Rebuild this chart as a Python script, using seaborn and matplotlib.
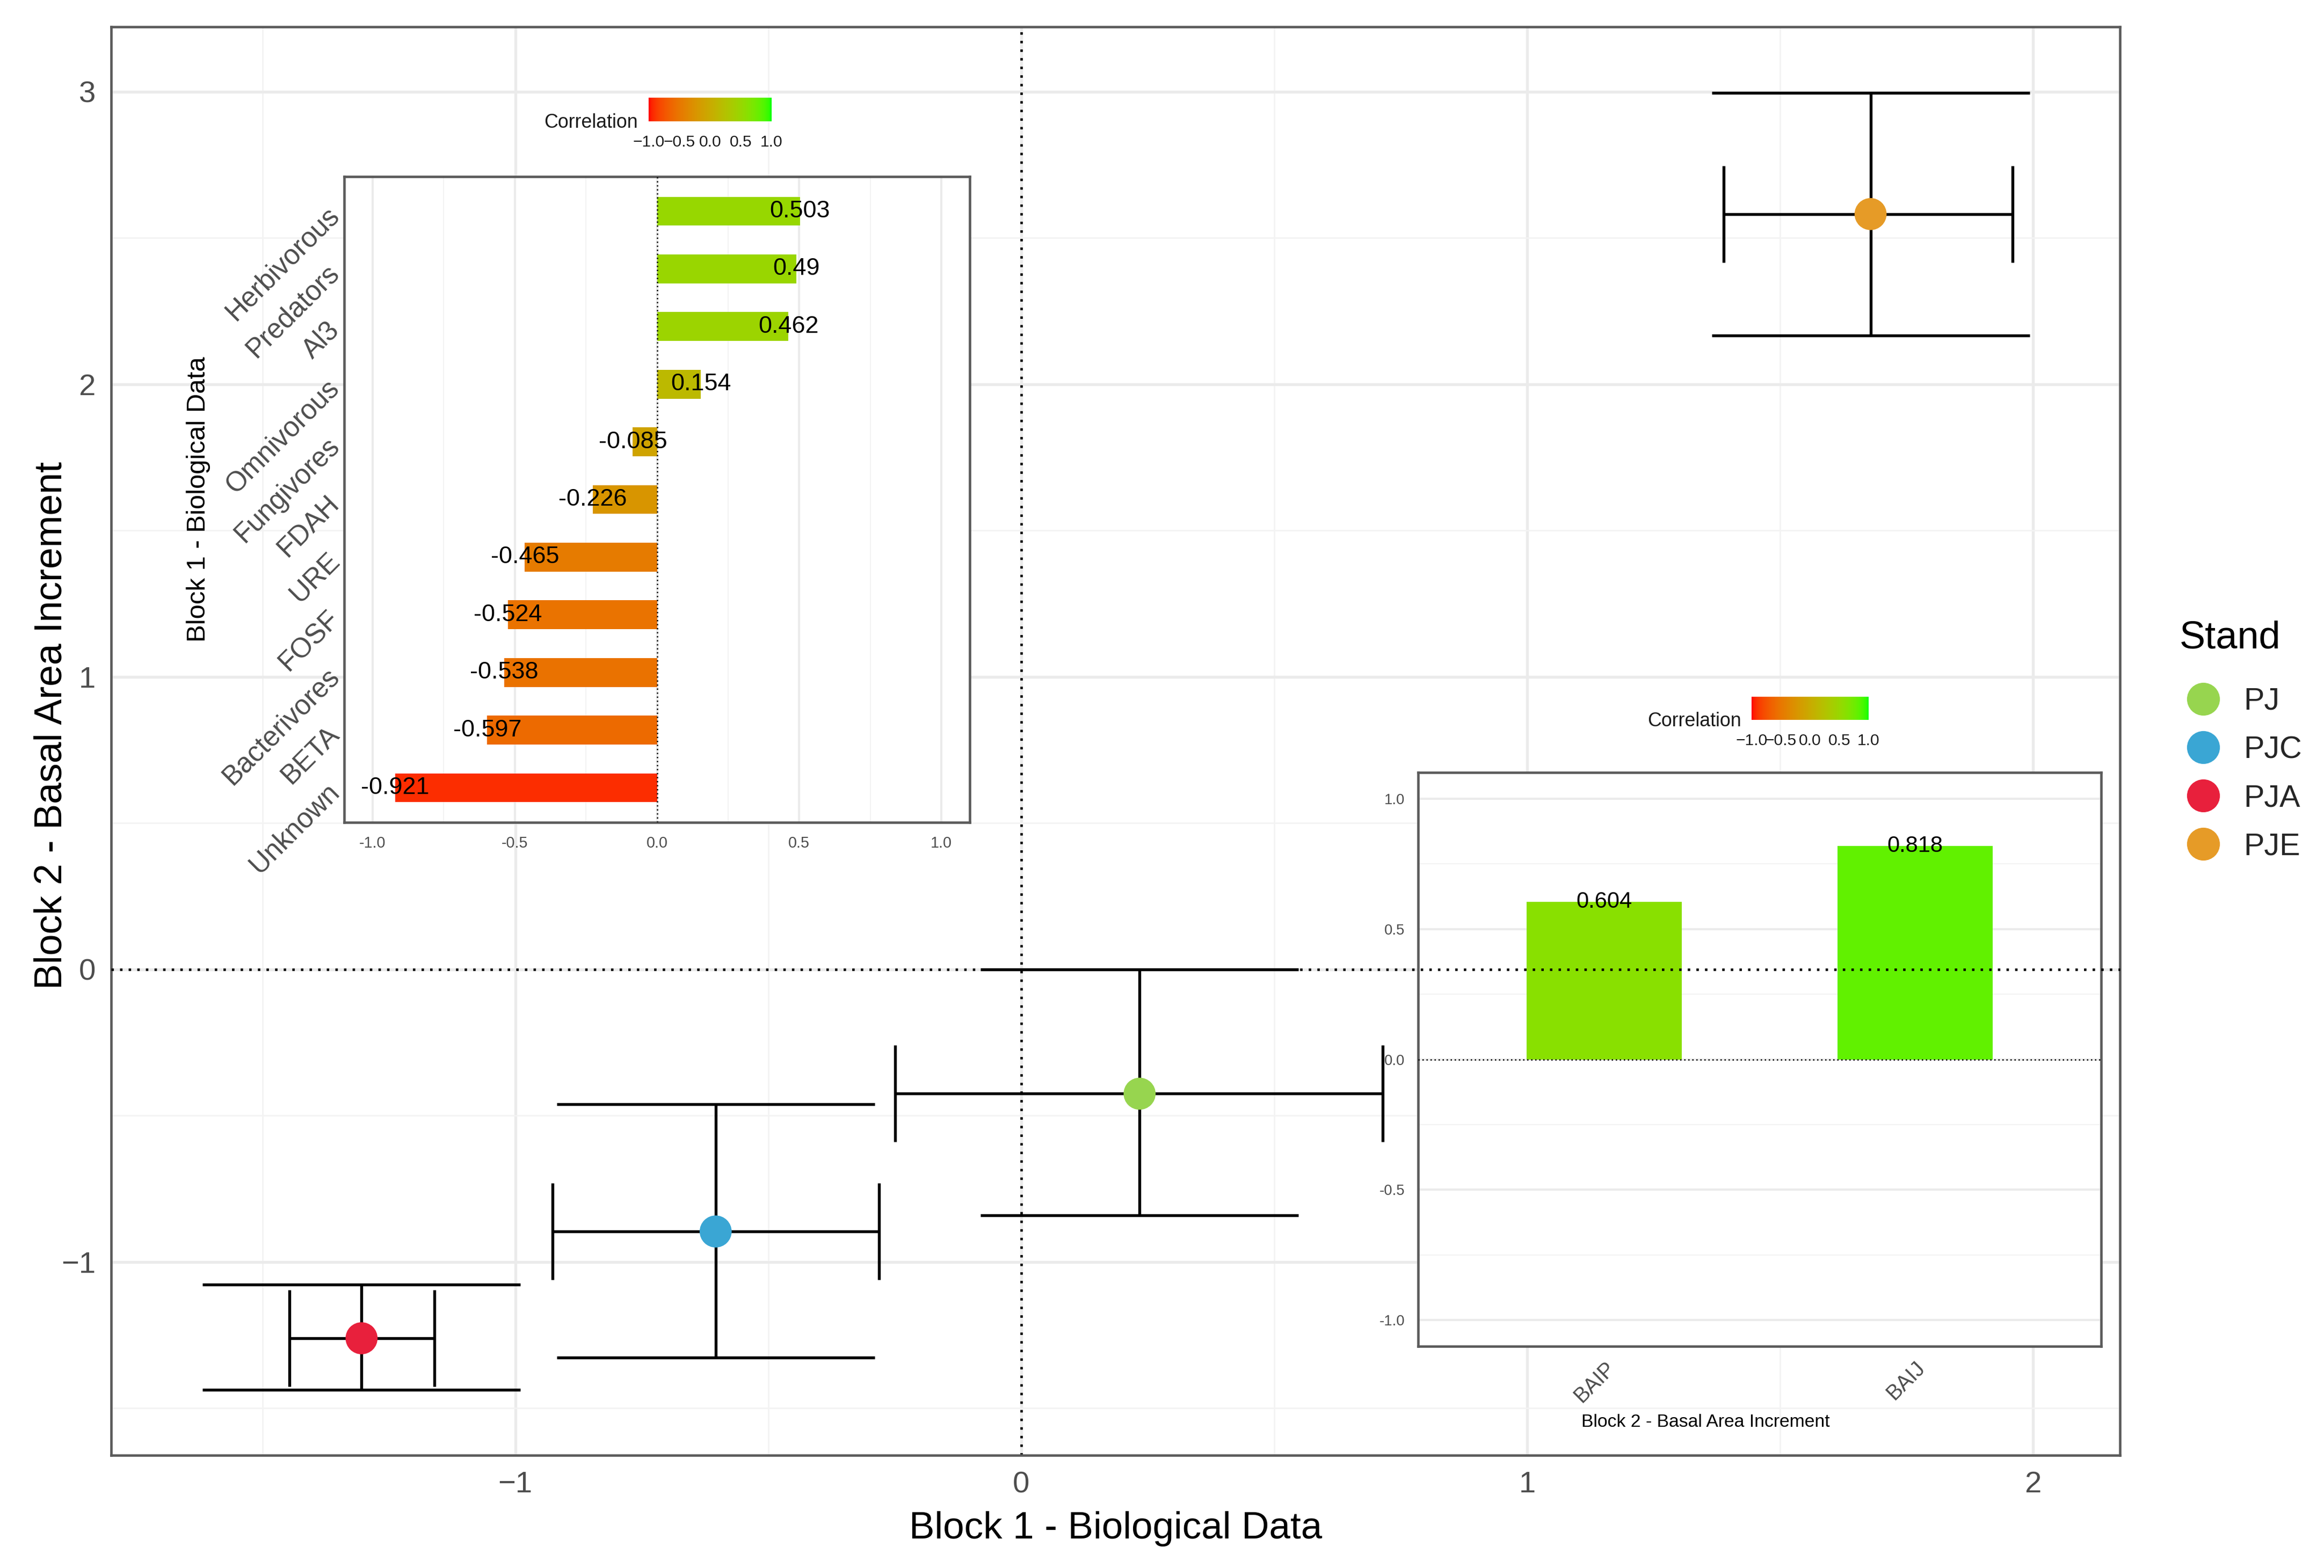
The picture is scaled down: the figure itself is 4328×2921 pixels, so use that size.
import numpy as np
import pandas as pd
import matplotlib
matplotlib.use("Agg")
import matplotlib.pyplot as plt
import seaborn as sns
from matplotlib.colors import ListedColormap, Normalize
from matplotlib.cm import ScalarMappable
from matplotlib.lines import Line2D
from matplotlib.ticker import MultipleLocator, FixedLocator, FuncFormatter, FormatStrFormatter

# -----------------------------
# Data
# -----------------------------
stands = ["PJ", "PJC", "PJA", "PJE"]
stand_colors = ["#97D54F", "#3AA6D4", "#E8203C", "#E69B27"]

x_mean = [0.234, -0.604, -1.304, 1.679]
x_low = [-0.249, -0.926, -1.447, 1.389]
x_high = [0.715, -0.281, -1.160, 1.960]
y_mean = [-0.425, -0.896, -1.261, 2.582]
y_low = [-0.841, -1.327, -1.438, 2.167]
y_high = [0.0, -0.461, -1.078, 2.997]

bio_vars = ["Herbivorous", "Predators", "Al3", "Omnivorous", "Fungivores",
            "FDAH", "URE", "FOSF", "Bacterivores", "BETA", "Unknown"]
bio_corr = [0.503, 0.49, 0.462, 0.154, -0.085, -0.226,
            -0.465, -0.524, -0.538, -0.597, -0.921]

bai_vars = ["BAIP", "BAIJ"]
bai_corr = [0.604, 0.818]

# -----------------------------
# red -> green ramp in CIELAB (like ggplot's gradient)
# -----------------------------
WHITE = np.array([0.95047, 1.0, 1.08883])
M = np.array([[0.4124564, 0.3575761, 0.1804375],
              [0.2126729, 0.7151522, 0.0721750],
              [0.0193339, 0.1191920, 0.9503041]])


def srgb_to_lab(rgb):
    rgb = np.asarray(rgb, float)
    lin = np.where(rgb <= 0.04045, rgb / 12.92, ((rgb + 0.055) / 1.055) ** 2.4)
    xyz = M @ lin / WHITE
    f = np.where(xyz > 0.008856, np.cbrt(xyz), 7.787 * xyz + 16 / 116)
    return np.array([116 * f[1] - 16, 500 * (f[0] - f[1]), 200 * (f[1] - f[2])])


def lab_to_srgb(lab):
    L, a, b = lab.T
    fy = (L + 16) / 116
    f = np.stack([fy + a / 500, fy, fy - b / 200])
    xyz = np.where(f ** 3 > 0.008856, f ** 3, (f - 16 / 116) / 7.787) * WHITE[:, None]
    lin = np.clip(np.linalg.inv(M) @ xyz, 0, 1)
    srgb = np.where(lin <= 0.0031308, 12.92 * lin, 1.055 * lin ** (1 / 2.4) - 0.055)
    return np.clip(srgb.T, 0, 1)


t = np.linspace(0, 1, 256)[:, None]
lab_ramp = (1 - t) * srgb_to_lab([1, 0, 0]) + t * srgb_to_lab([0, 1, 0])
corr_cmap = ListedColormap(lab_to_srgb(lab_ramp))
corr_norm = Normalize(-1, 1)

# -----------------------------
# Style
# -----------------------------
sns.set_style("white")
plt.rcParams["font.family"] = ["Liberation Sans", "DejaVu Sans"]

W, H = 4328, 2921
fig = plt.figure(figsize=(W / 300, H / 300), dpi=300)

GREY30 = "#4D4D4D"


def bw_panel(a, lw=1.2):
    a.set_facecolor("white")
    a.grid(which="major", color="#EBEBEB", lw=lw, zorder=0)
    a.grid(which="minor", color="#F3F3F3", lw=lw * 0.5, zorder=0)
    a.set_axisbelow(True)
    for s in a.spines.values():
        s.set_visible(True)
        s.set_color("#5A5A5A")
        s.set_linewidth(1.1)
    a.tick_params(which="minor", length=0)


# -----------------------------
# Main plot
# -----------------------------
ax = fig.add_axes([207 / W, 1 - 2711 / H, 3741 / W, 2661 / H])
bw_panel(ax, lw=1.3)

ax.errorbar(x_mean, y_mean,
            yerr=[np.subtract(y_mean, y_low), np.subtract(y_high, y_mean)],
            fmt="none", ecolor="black", elinewidth=1.3, capsize=71, capthick=1.3, zorder=2)
ax.errorbar(x_mean, y_mean,
            xerr=[np.subtract(x_mean, x_low), np.subtract(x_high, x_mean)],
            fmt="none", ecolor="black", elinewidth=1.3, capsize=21.5, capthick=1.3, zorder=2)

main_df = pd.DataFrame({"x": x_mean, "y": y_mean, "Stand": stands})
sns.scatterplot(data=main_df, x="x", y="y", hue="Stand", hue_order=stands,
                palette=dict(zip(stands, stand_colors)), s=205,
                edgecolor="none", ax=ax, zorder=3)

ax.axvline(0, color="black", ls=(0, (1, 2.5)), lw=1.1, zorder=1)

ax.set_xlim(-1.799, 2.172)
ax.set_ylim(-1.661, 3.222)
ax.xaxis.set_major_locator(MultipleLocator(1))
ax.xaxis.set_minor_locator(MultipleLocator(0.5))
ax.yaxis.set_major_locator(MultipleLocator(1))
ax.yaxis.set_minor_locator(MultipleLocator(0.5))
ax.tick_params(which="major", length=4, width=1, color="#333333",
               labelsize=13.5, labelcolor=GREY30, pad=3)

ax.set_xlabel("Block 1 - Biological Data", fontsize=17, color="black")
ax.set_ylabel("Block 2 - Basal Area Increment", fontsize=17.2, color="black")
ax.xaxis.set_label_coords(0.5, -0.039)
ax.yaxis.set_label_coords(-0.0206, 0.511)

sns.move_legend(ax, "upper left", bbox_to_anchor=(1.0308, 0.5378),
                frameon=False, title=None, fontsize=13.8,
                handlelength=1.4, handletextpad=0.6,
                labelspacing=0.63, borderpad=0, borderaxespad=0)
leg = ax.get_legend()
for h in leg.legend_handles:
    if isinstance(h, Line2D):
        h.set_markersize(14.7)
    else:
        h.set_sizes([216])
ax.text(1.0297, 0.5720, "Stand", transform=ax.transAxes, ha="left", va="center",
        fontsize=17.3, color="black")

# dotted y = 0 line drawn above the insets
fig.add_artist(Line2D([0, 1], [0, 0], transform=ax.get_yaxis_transform(),
                      color="black", ls=(0, (1, 2.5)), lw=1.1, zorder=5))

# -----------------------------
# Inset 1: Block 1 correlations
# -----------------------------
ax1 = fig.add_axes([641 / W, 1 - 1532 / H, 1165 / W, 1203 / H])
bw_panel(ax1, lw=1.0)

bio_df = pd.DataFrame({"var": bio_vars, "corr": bio_corr})
sns.barplot(data=bio_df, x="corr", y="var", hue="var", order=bio_vars,
            palette=dict(zip(bio_vars, corr_cmap(corr_norm(bio_corr)))),
            orient="h", width=0.5, saturation=1, legend=False, errorbar=None,
            linewidth=0, ax=ax1, zorder=2)
ax1.axvline(0, color="black", ls=(0, (1, 2)), lw=0.6, zorder=3)

for i, c in enumerate(bio_corr):
    ax1.text(c, i, str(c), ha="center", va="center", fontsize=10.8,
             color="black", zorder=4)

ax1.set_xlim(-1.1, 1.1)
ax1.set_ylim(len(bio_vars) - 0.4, -0.6)
ax1.xaxis.set_major_locator(FixedLocator([-1, -0.5, 0, 0.5, 1]))
ax1.xaxis.set_minor_locator(FixedLocator([-0.75, -0.25, 0.25, 0.75]))
ax1.xaxis.set_major_formatter(FormatStrFormatter("%.1f"))
ax1.tick_params(axis="x", which="major", length=3, width=0.9, color="#333333",
                labelsize=6.9, labelcolor=GREY30, pad=3)
ax1.tick_params(axis="y", which="major", length=3, width=0.9, color="#333333",
                labelsize=12.3, labelcolor=GREY30, pad=1)
ax1.set_yticks(range(len(bio_vars)))
ax1.set_yticklabels(bio_vars, rotation=45, ha="right", va="center",
                    rotation_mode="anchor")
ax1.set_xlabel("")
ax1.set_ylabel("Block 1 - Biological Data", fontsize=11.8, color="black")
ax1.yaxis.set_label_coords(-0.214, 0.5)

# -----------------------------
# Inset 2: Block 2 correlations
# -----------------------------
ax2 = fig.add_axes([2641 / W, 1 - 2508 / H, 1272 / W, 1069 / H])
bw_panel(ax2, lw=1.0)

bai_df = pd.DataFrame({"var": bai_vars, "corr": bai_corr})
sns.barplot(data=bai_df, x="var", y="corr", hue="var", order=bai_vars,
            palette=dict(zip(bai_vars, corr_cmap(corr_norm(bai_corr)))),
            width=0.5, saturation=1, legend=False, errorbar=None, linewidth=0,
            ax=ax2, zorder=2)
ax2.axhline(0, color="black", ls=(0, (1, 2)), lw=0.6, zorder=3)

for i, c in enumerate(bai_corr):
    ax2.text(i, c, str(c), ha="center", va="center", fontsize=10,
             color="black", zorder=4)

ax2.set_xlim(-0.6, 1.6)
ax2.set_ylim(-1.1, 1.1)
ax2.yaxis.set_major_locator(FixedLocator([-1, -0.5, 0, 0.5, 1]))
ax2.yaxis.set_minor_locator(FixedLocator([-0.75, -0.25, 0.25, 0.75]))
ax2.yaxis.set_major_formatter(FormatStrFormatter("%.1f"))
ax2.tick_params(axis="y", which="major", length=3, width=0.9, color="#333333",
                labelsize=6.6, labelcolor=GREY30, pad=3)
ax2.tick_params(axis="x", which="major", length=3, width=0.9, color="#333333",
                labelsize=9.5, labelcolor=GREY30, pad=2)
ax2.set_xticks(range(len(bai_vars)))
ax2.set_xticklabels(bai_vars, rotation=45, ha="right", va="top",
                    rotation_mode="anchor")
ax2.set_ylabel("")
ax2.set_xlabel("Block 2 - Basal Area Increment", fontsize=8.1, color="black")
ax2.xaxis.set_label_coords(0.421, -0.118)

# -----------------------------
# Colour bar legends
# -----------------------------
cb_fmt = FuncFormatter(lambda v, p: f"{v:.1f}".replace("-", "\u2212"))
for (cx, cy, cw, ch, tx, ty) in [(1208, 226, 229, 44, 1188, 228),
                                 (3262, 1341, 218, 43, 3243, 1343)]:
    cax = fig.add_axes([cx / W, 1 - cy / H, cw / W, ch / H])
    cb = fig.colorbar(ScalarMappable(norm=corr_norm, cmap=corr_cmap), cax=cax,
                      orientation="horizontal", ticks=[-1, -0.5, 0, 0.5, 1])
    cb.outline.set_visible(False)
    cb.ax.xaxis.set_major_formatter(cb_fmt)
    cb.ax.tick_params(length=3, width=0.6, color="white", direction="in",
                      labelsize=7.2, labelcolor="#1A1A1A", pad=6)
    fig.text(tx / W, 1 - ty / H, "Correlation", ha="right", va="center",
             fontsize=8.6, color="#1A1A1A")

fig.savefig("out.png", dpi=300)
